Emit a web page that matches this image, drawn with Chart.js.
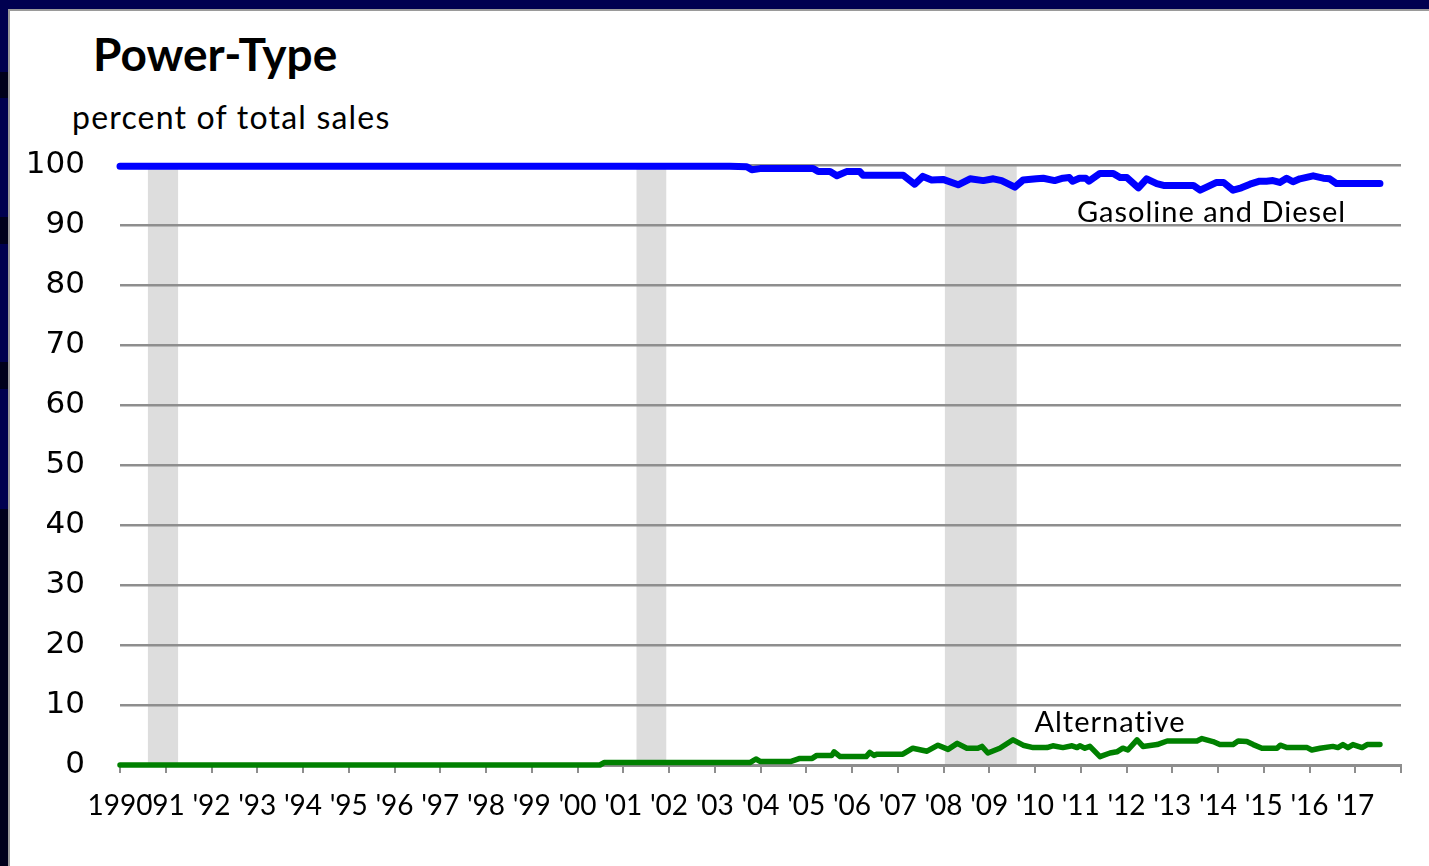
<!DOCTYPE html>
<html>
<head>
<meta charset="utf-8">
<script src="https://cdn.jsdelivr.net/npm/chart.js@4.4.1/dist/chart.umd.min.js"></script>
<style>
  html, body { margin: 0; padding: 0; }
  body { width: 1429px; height: 866px; background: #000050; overflow: hidden; position: relative; }
  #panel { position: absolute; left: 8px; top: 9px; right: 0; bottom: 0; background: #ffffff;
           border-top: 2px solid #9a9a9a; border-left: 2px solid #9a9a9a; }
  .dark { position: absolute; left: 0; width: 8px; background: #00001c; }
  #title { position: absolute; left: 93px; top: 26px; font: bold 46px Lato, "Open Sans", sans-serif;
           line-height: 1.2; color: #000; white-space: nowrap; }
  #subtitle { position: absolute; left: 72px; top: 98px; font: 32px Lato, "Open Sans", sans-serif;
              letter-spacing: 1.2px; line-height: 1.2; color: #000; white-space: nowrap; }
  #c { position: absolute; left: 0; top: 0; }
</style>
</head>
<body>
<div class="dark" style="top:72px;height:26px"></div>
<div class="dark" style="top:217px;height:27px"></div>
<div class="dark" style="top:362px;height:27px"></div>
<div class="dark" style="top:509px;height:357px"></div>
<div id="panel"></div>
<div id="title">Power-Type</div>
<div id="subtitle">percent of total sales</div>
<canvas id="c" width="1429" height="866"></canvas>
<script>
// ---- data ----
const gasYears = [1990.0, 2003.33, 2003.7, 2003.81, 2003.99, 2005.15, 2005.26, 2005.52, 2005.67, 2005.88,
  2006.17, 2006.24, 2007.12, 2007.37, 2007.55, 2007.74, 2007.99, 2008.32, 2008.58, 2008.87,
  2009.09, 2009.27, 2009.56, 2009.74, 2010.03, 2010.18, 2010.43, 2010.61, 2010.75, 2010.82,
  2010.97, 2011.11, 2011.18, 2011.42, 2011.71, 2011.86, 2012.01, 2012.26, 2012.44, 2012.66,
  2012.81, 2013.46, 2013.61, 2013.75, 2013.97, 2014.12, 2014.33, 2014.51, 2014.70, 2014.91,
  2015.06, 2015.20, 2015.35, 2015.50, 2015.64, 2015.79, 2016.08, 2016.30, 2016.44, 2016.59, 2017.54];
const gasValues = [99.8, 99.8, 99.7, 99.2, 99.4, 99.4, 98.9, 98.9, 98.2, 98.9,
  98.9, 98.3, 98.3, 96.8, 98.1, 97.5, 97.6, 96.7, 97.7, 97.4,
  97.7, 97.4, 96.3, 97.5, 97.7, 97.8, 97.4, 97.8, 97.9, 97.3,
  97.8, 97.8, 97.3, 98.6, 98.6, 97.9, 97.9, 96.2, 97.7, 96.9,
  96.6, 96.6, 95.8, 96.3, 97.1, 97.1, 95.8, 96.2, 96.8, 97.3,
  97.3, 97.4, 97.1, 97.8, 97.2, 97.7, 98.2, 97.8, 97.7, 96.9, 96.9];

const altYears = [1990.0, 2000.49, 2000.58, 2003.77, 2003.9, 2003.99, 2004.67, 2004.86, 2005.13, 2005.23,
  2005.56, 2005.61, 2005.74, 2006.31, 2006.39, 2006.48, 2006.55, 2007.11, 2007.33, 2007.64,
  2007.88, 2008.10, 2008.30, 2008.51, 2008.75, 2008.84, 2008.97, 2009.23, 2009.52, 2009.74,
  2009.96, 2010.26, 2010.39, 2010.61, 2010.81, 2010.92, 2010.98, 2011.09, 2011.20, 2011.42,
  2011.64, 2011.79, 2011.92, 2012.03, 2012.23, 2012.36, 2012.67, 2012.89, 2013.54, 2013.65,
  2013.89, 2014.04, 2014.33, 2014.44, 2014.63, 2014.77, 2014.96, 2015.29, 2015.36, 2015.51,
  2015.95, 2016.05, 2016.23, 2016.51, 2016.62, 2016.73, 2016.84, 2016.95, 2017.15, 2017.26, 2017.54];
const altValues = [0, 0, 0.4, 0.4, 1.0, 0.6, 0.6, 1.1, 1.1, 1.6,
  1.6, 2.2, 1.4, 1.4, 2.1, 1.6, 1.8, 1.8, 2.8, 2.3,
  3.3, 2.6, 3.6, 2.8, 2.8, 3.1, 2.0, 2.8, 4.2, 3.3,
  2.9, 2.9, 3.2, 2.9, 3.2, 2.9, 3.2, 2.8, 3.1, 1.4,
  2.0, 2.2, 2.8, 2.5, 4.2, 3.1, 3.4, 4.0, 4.0, 4.4,
  3.9, 3.4, 3.4, 4.0, 3.9, 3.4, 2.8, 2.8, 3.3, 2.9,
  2.9, 2.5, 2.8, 3.1, 2.9, 3.4, 2.9, 3.4, 2.9, 3.4, 3.4];

const recessionStart = [1990.61, 2001.29, 2008.03];
const recessionEnd   = [1991.27, 2001.94, 2009.60];

const xTickLabels = ["1990", "'91", "'92", "'93", "'94", "'95", "'96", "'97", "'98", "'99",
  "'00", "'01", "'02", "'03", "'04", "'05", "'06", "'07", "'08", "'09",
  "'10", "'11", "'12", "'13", "'14", "'15", "'16", "'17"];
const yTickValues = [0, 10, 20, 30, 40, 50, 60, 70, 80, 90, 100];

const seriesNames = ["Gasoline and Diesel", "Alternative"];

// ---- plugins ----
const recessionPlugin = {
  id: 'recessions',
  beforeDraw(chart) {
    const { ctx, chartArea, scales } = chart;
    ctx.save();
    ctx.fillStyle = '#dddddd';
    for (let i = 0; i < recessionStart.length; i++) {
      const x0 = scales.x.getPixelForValue(recessionStart[i]);
      const x1 = scales.x.getPixelForValue(recessionEnd[i]);
      ctx.fillRect(x0, chartArea.top, x1 - x0, chartArea.bottom - chartArea.top);
    }
    ctx.restore();
  }
};

const seriesLabelPlugin = {
  id: 'seriesLabels',
  afterDatasetsDraw(chart, args, opts) {
    const { ctx, scales } = chart;
    ctx.save();
    ctx.font = '29px Lato, "Open Sans", sans-serif';
    if ('letterSpacing' in ctx) ctx.letterSpacing = '1px';
    ctx.fillStyle = '#000';
    ctx.textAlign = 'center';
    ctx.textBaseline = 'alphabetic';
    opts.items.forEach(it => {
      ctx.fillText(it.text, scales.x.getPixelForValue(it.x), scales.y.getPixelForValue(it.y));
    });
    ctx.restore();
  }
};

const gridColor = '#8e8e8e';

new Chart(document.getElementById('c'), {
  type: 'line',
  data: {
    datasets: [
      {
        label: seriesNames[0],
        data: gasYears.map((x, i) => ({ x: x, y: gasValues[i] })),
        borderColor: '#0000ff',
        borderWidth: 7,
        pointRadius: 0,
        tension: 0,
        borderCapStyle: 'round',
        borderJoinStyle: 'round',
        clip: false
      },
      {
        label: seriesNames[1],
        data: altYears.map((x, i) => ({ x: x, y: altValues[i] })),
        borderColor: '#008000',
        borderWidth: 5.5,
        pointRadius: 0,
        tension: 0,
        borderCapStyle: 'round',
        borderJoinStyle: 'round',
        clip: false
      }
    ]
  },
  options: {
    responsive: false,
    animation: false,
    events: [],
    layout: { padding: { left: 0, top: 165, right: 28, bottom: 0 } },
    plugins: {
      legend: { display: false },
      tooltip: { enabled: false },
      title: { display: false },
      seriesLabels: {
        items: [
          { text: seriesNames[0], x: 2013.86, y: 90.5 },
          { text: seriesNames[1], x: 2011.64, y: 5.55 }
        ]
      }
    },
    scales: {
      x: {
        type: 'linear',
        min: 1990,
        max: 2018,
        afterBuildTicks(scale) {
          scale.ticks = xTickLabels.map((_, i) => ({ value: 1990 + i })).concat([{ value: 2018 }]);
        },
        afterFit(scale) { scale.height = 101; },
        ticks: {
          autoSkip: false,
          maxRotation: 0,
          minRotation: 0,
          padding: 16,
          color: '#000',
          font: { family: 'Lato, "Open Sans", sans-serif', size: 28 },
          callback(value) {
            const i = Math.round(value - 1990);
            return xTickLabels[i] !== undefined ? xTickLabels[i] : '';
          }
        },
        grid: {
          drawOnChartArea: false,
          drawTicks: true,
          tickLength: 8,
          color: gridColor,
          lineWidth: 2
        },
        border: { display: true, color: gridColor, width: 3 }
      },
      y: {
        min: 0,
        max: 100,
        afterBuildTicks(scale) {
          scale.ticks = yTickValues.map(v => ({ value: v }));
        },
        afterFit(scale) { scale.width = 120; },
        ticks: {
          padding: 35,
          color: '#000',
          font: { family: '"DejaVu Sans", Verdana, sans-serif', size: 31 }
        },
        grid: {
          drawTicks: false,
          color: gridColor,
          lineWidth: 2.5
        },
        border: { display: false }
      }
    }
  },
  plugins: [recessionPlugin, seriesLabelPlugin]
});
</script>
</body>
</html>
